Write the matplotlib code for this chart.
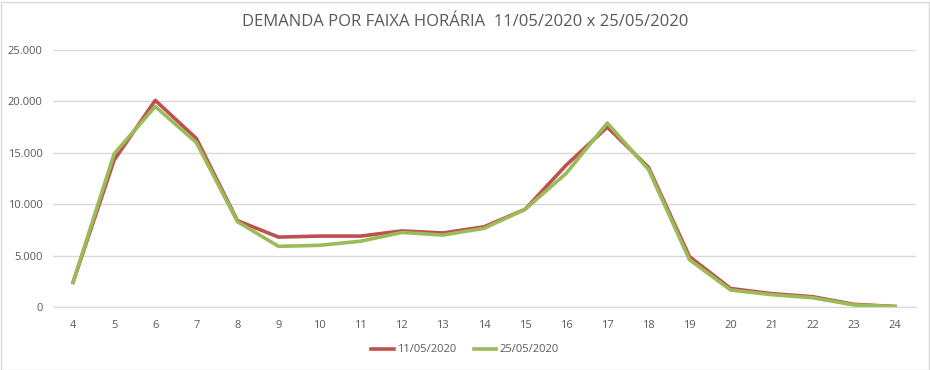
import matplotlib.pyplot as plt
from matplotlib.ticker import FuncFormatter
from matplotlib.patches import Rectangle

# hours of the day
horas = [4, 5, 6, 7, 8, 9, 10, 11, 12, 13, 14, 15, 16, 17, 18, 19, 20, 21, 22, 23, 24]

# demand 11/05/2020
dem_1105 = [2400, 14300, 20100, 16400, 8400, 6800, 6900, 6900, 7400, 7200, 7800,
            9500, 13800, 17500, 13600, 4900, 1800, 1300, 1000, 260, 50]
# demand 25/05/2020
dem_2505 = [2400, 14900, 19500, 16000, 8300, 5900, 6000, 6400, 7250, 7000, 7650,
            9500, 13000, 17900, 13400, 4600, 1650, 1200, 900, 200, 50]

y_ticks = [0, 5000, 10000, 15000, 20000, 25000]

plt.rcParams['font.family'] = ['Open Sans', 'DejaVu Sans']
txt = '#595959'
grid_c = '#D9D9D9'

fig = plt.figure(figsize=(9.3, 3.7), dpi=100)
ax = fig.add_axes([52.5 / 930, 1 - 307 / 370, 863 / 930, 257 / 370])

ax.plot(horas, dem_1105, color='#C0504D', lw=2.6, label='11/05/2020', solid_joinstyle='round')
ax.plot(horas, dem_2505, color='#9BBB59', lw=2.6, label='25/05/2020', solid_joinstyle='round')

ax.set_xlim(3.5, 24.5)
ax.set_ylim(0, 25000)
ax.set_xticks(horas)
ax.set_yticks(y_ticks)
ax.yaxis.set_major_formatter(FuncFormatter(lambda v, p: f'{int(v):,}'.replace(',', '.')))
ax.grid(axis='y', color=grid_c, lw=1)
ax.set_axisbelow(True)
for s in ['top', 'left', 'right']:
    ax.spines[s].set_visible(False)
ax.spines['bottom'].set_color(grid_c)
ax.tick_params(length=0, colors=txt, labelsize=8)
ax.tick_params(axis='x', pad=9)
ax.tick_params(axis='y', pad=7)

fig.text(0.5, 1 - 22 / 370, 'DEMANDA POR FAIXA HORÁRIA  11/05/2020 x 25/05/2020',
         ha='center', va='center', fontsize=12, color=txt)

leg = fig.legend(loc='center', bbox_to_anchor=(0.5, 1 - 350 / 370), ncol=2, frameon=False,
                 fontsize=8, handlelength=2.0, handletextpad=0.3, columnspacing=1.6)
for t in leg.get_texts():
    t.set_color(txt)

fig.patches.append(Rectangle((0.5 / 930, 0.5 / 370), 928 / 930, 368 / 370, transform=fig.transFigure,
                             fill=False, edgecolor='#D9D9D9', lw=1))

fig.savefig('out.png', dpi=100)
